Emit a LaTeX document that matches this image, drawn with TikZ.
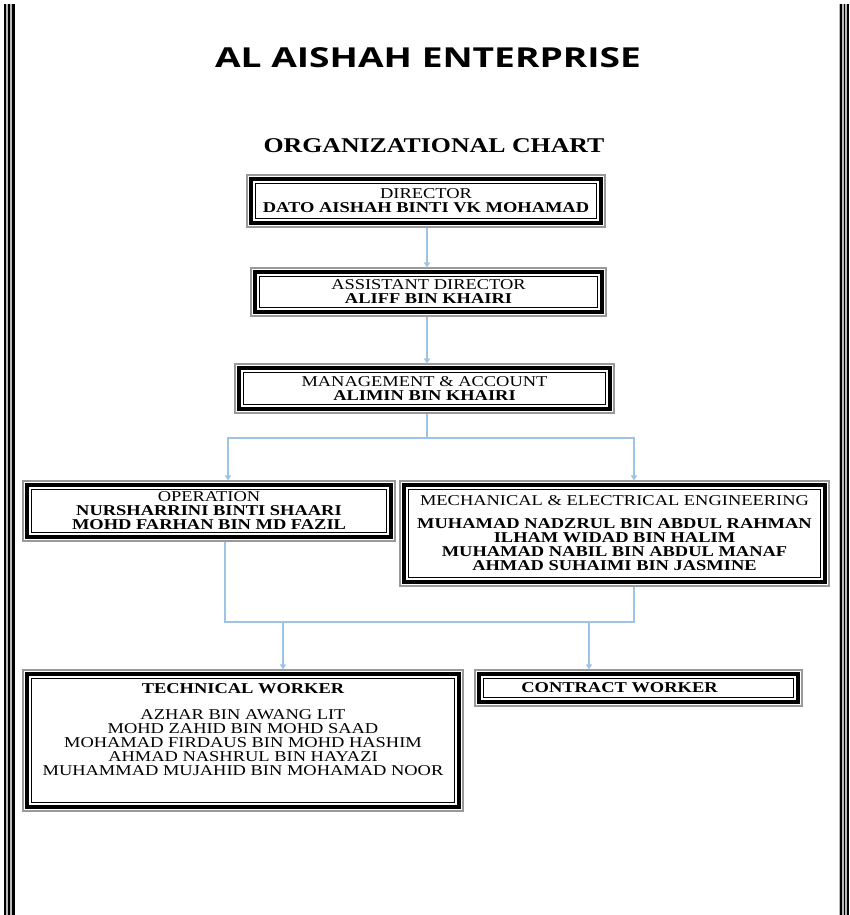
\documentclass[tikz,border=0pt]{standalone}
\usepackage{fontspec}
\setmainfont{Liberation Serif}
\newfontfamily\bxfont[FakeStretch=1.23]{Liberation Serif}
\newfontfamily\ttlfont[FakeStretch=1.35]{Open Sans}
\usetikzlibrary{arrows.meta,calc}
\definecolor{conn}{RGB}{157,195,230}
\newcommand\frm[1]{%
  \draw[line width=4pt] ([shift={(5pt,-5pt)}]#1.north west) rectangle ([shift={(-5pt,5pt)}]#1.south east);
  \draw[line width=1pt] ([shift={(8.8pt,-8.8pt)}]#1.north west) rectangle ([shift={(-8.8pt,8.8pt)}]#1.south east);}
\tikzset{
  box/.style={draw=gray!80, line width=1.1pt, inner sep=0pt, align=center,
    font=\bxfont\fontsize{15}{14}\selectfont},
  txt/.style={inner sep=0pt, align=center, font=\bxfont\fontsize{15}{14}\selectfont},
  line/.style={draw=conn, line width=2pt},
  arr/.style={line, -{Triangle[length=5pt,width=6pt]}},
}
\begin{document}
\begin{tikzpicture}[x=1pt,y=-1pt]
\useasboundingbox (0,0) rectangle (849,915);
\fill[white] (0,0) rectangle (849,915);
% page borders
\fill[gray!55] (4,4) rectangle (15.3,915);
\fill[black] (4,4) rectangle (6,915);
\fill[black] (8,4) rectangle (10,915);
\fill[black] (12,4) rectangle (15.3,915);
\fill[gray!55] (838.8,4) rectangle (848.8,915);
\fill[black] (840,4) rectangle (842.3,915);
\fill[black] (843.5,4) rectangle (845.3,915);
\fill[black] (846.5,4) rectangle (848.8,915);
% titles
\node[anchor=base, inner sep=0pt, font=\ttlfont\bfseries\fontsize{27.5}{27.5}\selectfont] (title) at (428,68) {AL AISHAH ENTERPRISE};
\node[anchor=base, inner sep=0pt, font=\bxfont\bfseries\fontsize{21}{21}\selectfont] (sub) at (434,152) {ORGANIZATIONAL CHART};
% boxes
\node[box, minimum width=358pt, minimum height=52pt] (dir) at (426,201)
  {\fontsize{15}{17}\selectfont DIRECTOR\\{\bfseries DATO AISHAH BINTI VK MOHAMAD}};
\node[box, minimum width=355pt, minimum height=48pt] (asst) at (428.5,292)
  {\fontsize{15}{15}\selectfont ASSISTANT DIRECTOR\\{\bfseries ALIFF BIN KHAIRI}};
\node[box, minimum width=379pt, minimum height=49pt] (mgmt) at (424.5,388.5)
  {MANAGEMENT \& ACCOUNT\\{\bfseries ALIMIN BIN KHAIRI}};
\node[box, minimum width=372pt, minimum height=60pt] (op) at (209,511)
  {OPERATION\\{\bfseries NURSHARRINI BINTI SHAARI}\\{\bfseries MOHD FARHAN BIN MD FAZIL}};
\node[box, minimum width=429pt, minimum height=105pt] (mech) at (614.5,533.5)
  {MECHANICAL \& ELECTRICAL ENGINEERING\\[9pt]{\bfseries MUHAMAD NADZRUL BIN ABDUL RAHMAN}\\{\bfseries ILHAM WIDAD BIN HALIM}\\{\bfseries MUHAMAD NABIL BIN ABDUL MANAF}\\{\bfseries AHMAD SUHAIMI BIN JASMINE}};
\node[box, minimum width=440pt, minimum height=141pt] (tech) at (243,740.5) {};
\node[txt] (techtxt) at ([yshift=11pt]tech.center)
  {{\bfseries TECHNICAL WORKER}\\[12pt]AZHAR BIN AWANG LIT\\MOHD ZAHID BIN MOHD SAAD\\MOHAMAD FIRDAUS BIN MOHD HASHIM\\AHMAD NASHRUL BIN HAYAZI\\MUHAMMAD MUJAHID BIN MOHAMAD NOOR};
\node[box, minimum width=327pt, minimum height=36pt] (contract) at (638.5,688) {};
\node[txt, font=\bxfont\bfseries\fontsize{15}{14}\selectfont] (contxt) at ([xshift=-19pt]contract.center) {CONTRACT WORKER};
\frm{dir}\frm{asst}\frm{mgmt}\frm{op}\frm{mech}\frm{tech}\frm{contract}
% connectors
\coordinate (a) at (427,0);
\draw[arr] (dir.south -| a) -- (asst.north -| a);
\draw[arr] (asst.south -| a) -- (mgmt.north -| a);
\coordinate (jt) at (427,438);
\coordinate (opin) at (228,438);
\coordinate (mechin) at (634,438);
\draw[line] (mgmt.south -| jt) -- (jt);
\draw[arr] (jt) -- (opin) -- (op.north -| opin);
\draw[arr] (jt) -- (mechin) -- (mech.north -| mechin);
\coordinate (jl) at (225,622);
\coordinate (jr) at (634,622);
\draw[line] (op.south -| jl) -- (jl) -- (jr) -- (mech.south -| jr);
\coordinate (t1) at (283,622);
\coordinate (t2) at (589,622);
\draw[arr] (t1) -- (tech.north -| t1);
\draw[arr] (t2) -- (contract.north -| t2);
\end{tikzpicture}
\end{document}
